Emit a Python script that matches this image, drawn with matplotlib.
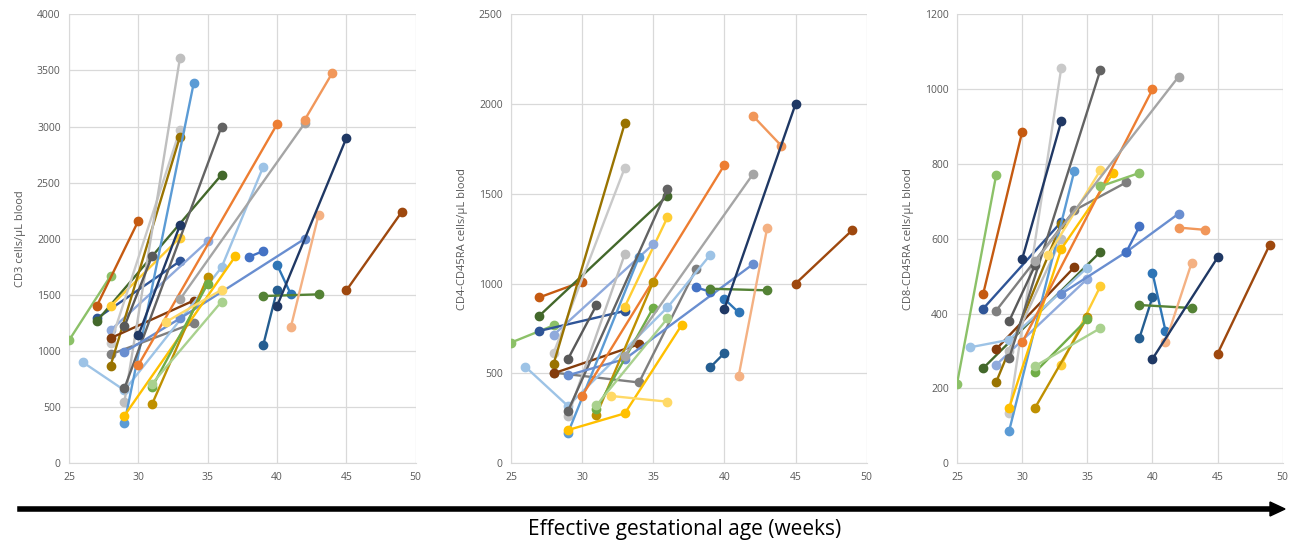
import matplotlib
matplotlib.use("Agg")
import matplotlib.pyplot as plt

# colours shared by the subjects across the three panels
subject_colors = ['#8CC168', '#C55A11', '#2F5597', '#43682B', '#FFCD33', '#8FAADC',
                  '#C9C9C9', '#7F7F7F', '#997300', '#843C0C', '#9DC3E6', '#BFBFBF',
                  '#5B9BD5', '#636363', '#595959', '#698ED0', '#FFC000', '#203864',
                  '#ED7D31', '#BF9000', '#70AD47', '#A9D18E', '#FFD966', '#A5A5A5',
                  '#4472C4', '#255E91', '#2E75B6', '#548235', '#F4B183', '#F1975A',
                  '#1F3864', '#9E480E']

# CD3 cells/uL blood
cd3_weeks = [[25, 28], [27, 30], [27, 33], [27, 36], [28, 33], [28, 35],
             [28, 33], [28, 34], [28, 33], [28, 34], [26, 29, 36, 39], [29, 33],
             [29, 34], [29, 36], [29, 31], [29, 33, 42], [29, 37], [30, 33],
             [30, 40], [31, 35], [31, 35], [31, 36], [32, 36], [33, 42],
             [38, 39], [39, 40], [40, 41], [39, 43], [41, 43], [42, 44],
             [40, 45], [45, 49]]
cd3_values = [[1095, 1670], [1400, 2160], [1290, 1800], [1265, 2570], [1400, 2010], [1185, 1978],
              [1070, 2970], [970, 1250], [870, 2910], [1115, 1450], [900, 650, 1745, 2640], [550, 3610],
              [360, 3390], [670, 3000], [1220, 1850], [990, 1290, 2000], [425, 1845], [1140, 2120],
              [875, 3020], [530, 1660], [680, 1600], [710, 1440], [1260, 1545], [1460, 3030],
              [1840, 1890], [1050, 1540], [1770, 1505], [1490, 1505], [1215, 2215], [3060, 3480],
              [1400, 2897], [1540, 2240]]

# CD4-CD45RA cells/uL blood
cd4_weeks = [[25, 28], [27, 30], [27, 33], [27, 36], [33, 36], [28, 35],
             [28, 33], [28, 34, 38], [28, 33], [28, 34], [26, 29, 36, 39], [29, 33],
             [29, 34], [29, 36], [29, 31], [29, 33, 42], [29, 33, 37], [],
             [30, 40], [31, 35], [31, 35], [31, 36], [32, 36], [33, 42],
             [38, 39], [39, 40], [40, 41], [39, 43], [41, 43], [42, 44],
             [40, 45], [45, 49]]
cd4_values = [[672, 768], [924, 1011], [737, 848], [822, 1490], [872, 1370], [715, 1220],
              [615, 1646], [505, 450, 1080], [555, 1893], [501, 663], [538, 319, 868, 1160], [263, 1165],
              [168, 1150], [290, 1527], [580, 880], [490, 580, 1108], [185, 278, 770], [],
              [376, 1661], [269, 1011], [300, 866], [322, 807], [375, 343], [600, 1609],
              [980, 955], [534, 614], [915, 840], [972, 963], [485, 1308], [1935, 1768],
              [860, 2000], [1000, 1299]]

# CD8-CD45RA cells/uL blood
cd8_weeks = [[25, 28], [27, 30], [27, 33], [27, 36], [33, 36], [28, 35],
             [29, 33], [28, 34, 38], [28, 33], [28, 34], [26, 29, 35], [29, 33],
             [29, 34], [29, 36], [29, 31], [33, 38, 42], [29, 33, 37], [30, 33],
             [30, 40], [31, 35], [31, 35], [31, 36], [32, 36], [31, 42],
             [38, 39], [39, 40], [40, 41], [39, 43], [41, 43], [42, 44],
             [40, 45], [45, 49], [36, 39]]
cd8_values = [[213, 770], [452, 886], [413, 645], [254, 565], [263, 473], [263, 493],
              [134, 1057], [408, 676, 751], [217, 640], [305, 524], [310, 330, 523], [300, 600],
              [87, 781], [281, 1051], [380, 530], [453, 565, 667], [148, 573, 776], [546, 914],
              [323, 999], [149, 390], [244, 385], [260, 361], [556, 783], [540, 1033],
              [565, 633], [335, 444], [509, 354], [423, 415], [323, 535], [630, 624],
              [279, 550], [293, 584], [740, 776]]

panels = [
    (cd3_weeks, cd3_values, 'CD3 cells/\u03bcL blood', 4000, 500),
    (cd4_weeks, cd4_values, 'CD4-CD45RA cells/\u03bcL blood', 2500, 500),
    (cd8_weeks, cd8_values, 'CD8-CD45RA cells/\u03bcL blood', 1200, 200),
]
lefts = [0.0532, 0.394, 0.7379]
widths = [0.2673, 0.2742, 0.2511]

plt.rcParams['font.family'] = ['Open Sans', 'DejaVu Sans']
fig = plt.figure(figsize=(12.97, 5.43), dpi=100)

for (weeks, values, label, ymax, ystep), left, width in zip(panels, lefts, widths):
    ax = fig.add_axes([left, 0.1468, width, 0.8269])
    for i, (w, v) in enumerate(zip(weeks, values)):
        if not w:
            continue
        ax.plot(w, v, '-o', color=subject_colors[i % len(subject_colors)],
                lw=1.7, ms=6, zorder=3)
    ax.set_xlim(25, 50)
    ax.set_ylim(0, ymax)
    ax.set_xticks(range(25, 51, 5))
    ax.set_yticks(range(0, ymax + 1, ystep))
    ax.grid(True, color='#D9D9D9', lw=0.9, zorder=0)
    ax.set_axisbelow(True)
    for s in ['top', 'right']:
        ax.spines[s].set_visible(False)
    for s in ['left', 'bottom']:
        ax.spines[s].set_color('#D9D9D9')
    ax.tick_params(length=0, labelsize=7.5, labelcolor='#595959', pad=6)
    ax.set_ylabel(label, fontsize=8, color='#595959', labelpad=8)

fig.add_artist(plt.Line2D([20 / 1297, 1272 / 1297], [1 - 509 / 543] * 2,
                          color='black', lw=4, transform=fig.transFigure))
fig.patches.append(plt.Polygon([[1270 / 1297, 1 - 502 / 543], [1285 / 1297, 1 - 509 / 543],
                                [1270 / 1297, 1 - 516 / 543]], closed=True,
                               color='black', transform=fig.transFigure, figure=fig))
fig.text(0.528, 0.024, 'Effective gestational age (weeks)', ha='center', va='center',
         fontsize=15, color='black')

fig.savefig('out.png', dpi=100)
